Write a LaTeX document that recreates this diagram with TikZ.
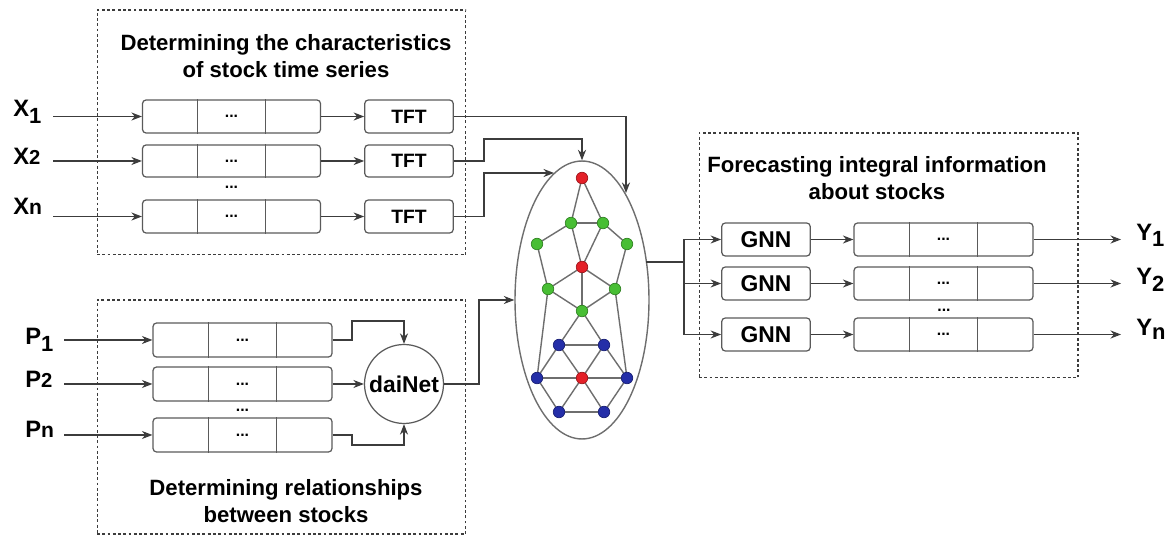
\documentclass[tikz,border=0pt]{standalone}
\usepackage{fontspec}
\setmainfont{Liberation Sans}
\usetikzlibrary{arrows.meta,calc,shapes.geometric,backgrounds}
\definecolor{ln}{RGB}{60,60,60}
\definecolor{bx}{RGB}{90,90,90}
\definecolor{ed}{RGB}{110,110,110}
\definecolor{nred}{RGB}{228,32,40}
\definecolor{ngreen}{RGB}{72,190,52}
\definecolor{nblue}{RGB}{36,46,168}
\tikzset{
  seqbox/.style={draw=bx, rounded corners=2pt, line width=0.7pt, minimum width=3.56cm, minimum height=0.66cm, inner sep=0pt, font=\bfseries\fontsize{9}{9}\selectfont},
  smallbox/.style={draw=bx, rounded corners=2pt, line width=0.7pt, minimum width=1.77cm, minimum height=0.66cm, inner sep=0pt},
  grpbox/.style={draw=ln, dash pattern=on 1.6pt off 1.4pt, line width=0.6pt, inner sep=0pt},
  ttl/.style={font=\bfseries\fontsize{12.6}{15.8}\selectfont, align=center, inner sep=0pt},
  lbl/.style={font=\bfseries\fontsize{13.5}{14}\selectfont, inner sep=0pt, anchor=base west},
  arr/.style={-{Stealth[length=6pt,width=4.6pt]}, draw=ln, line width=0.65pt},
  ln/.style={draw=ln, line width=0.65pt},
  gedge/.style={draw=ed, line width=0.8pt},
  gn/.style={circle, draw=#1!70!black, fill=#1, minimum size=0.23cm, inner sep=0pt, line width=0.4pt},
  dots/.style={font=\bfseries\fontsize{9}{9}\selectfont, inner sep=0pt}
}
\newcommand\seqdiv[1]{%
  \draw[draw=bx, line width=0.7pt] ($(#1.north west)!0.31!(#1.north east)$) -- ($(#1.south west)!0.31!(#1.south east)$);
  \draw[draw=bx, line width=0.7pt] ($(#1.north west)!0.69!(#1.north east)$) -- ($(#1.south west)!0.69!(#1.south east)$);}
\begin{document}
\begin{tikzpicture}[x=0.02cm,y=-0.02cm]
\useasboundingbox (0,0) rectangle (1170,536);
% group boxes
\node[grpbox, minimum width=7.38cm, minimum height=4.9cm] (box1) at (281.5,132.5) {};
\node[grpbox, minimum width=7.38cm, minimum height=4.68cm] (box2) at (281.5,417) {};
\node[grpbox, minimum width=7.58cm, minimum height=4.9cm] (box3) at (888.5,255.5) {};
\node[ttl] (ttl1) at (286,56) {Determining the characteristics\\of stock time series};
\node[ttl] (ttl2) at (286,501) {Determining relationships\\between stocks};
\node[ttl] (ttl3) at (877,178) {Forecasting integral information\\about stocks};

% X rows
\node[seqbox] (r1) at (231.5,116.5) {...};
\node[seqbox, minimum height=0.64cm] (r2) at (231.5,161) {...};
\node[seqbox] (r3) at (231.5,216.5) {...};
\seqdiv{r1}\seqdiv{r2}\seqdiv{r3}
\node[dots] (rd) at (231.5,187) {...};
\node[smallbox, font=\bfseries\fontsize{11}{12}\selectfont] (t1) at (409,116.5) {TFT};
\node[smallbox, font=\bfseries\fontsize{11}{12}\selectfont, minimum height=0.64cm] (t2) at (409,161) {TFT};
\node[smallbox, font=\bfseries\fontsize{11}{12}\selectfont] (t3) at (409,216.5) {TFT};
\node[lbl] (x1) at (13,117) {X\textsubscript{\fontsize{12.5}{12}\selectfont 1}};
\node[lbl] (x2) at (13,164.5) {X{\fontsize{11.5}{12}\selectfont 2}};
\node[lbl] (xn) at (13,215) {X{\fontsize{12}{12}\selectfont n}};
\coordinate (x1s) at (53,116.5);
\coordinate (x2s) at (53,161);
\coordinate (xns) at (53,216.5);
\draw[arr] (x1s) -- (r1.west);
\draw[arr] (x2s) -- (r2.west);
\draw[arr] (xns) -- (r3.west);
\draw[arr] (r1.east) -- (t1.west);
\draw[arr] (r2.east) -- (t2.west);
\draw[arr] (r3.east) -- (t3.west);

% P rows
\node[seqbox, minimum width=3.58cm, minimum height=0.68cm] (q1) at (242.5,340) {...};
\node[seqbox, minimum width=3.58cm, minimum height=0.68cm] (q2) at (242.5,384) {...};
\node[seqbox, minimum width=3.58cm, minimum height=0.68cm] (q3) at (242.5,435) {...};
\seqdiv{q1}\seqdiv{q2}\seqdiv{q3}
\node[dots] (qd) at (242.5,410) {...};
\node[circle, draw=bx, line width=0.7pt, minimum size=1.58cm, inner sep=0pt, font=\bfseries\fontsize{13}{14}\selectfont] (dai) at (404,384) {daiNet};
\node[lbl] (p1) at (25,345) {P\textsubscript{\fontsize{12.5}{12}\selectfont 1}};
\node[lbl] (p2) at (25,387.5) {P{\fontsize{11.5}{12}\selectfont 2}};
\node[lbl] (pn) at (25,438) {P{\fontsize{12}{12}\selectfont n}};
\coordinate (p1s) at (64,340);
\coordinate (p2s) at (64,384);
\coordinate (pns) at (64,435);
\draw[arr] (p1s) -- (q1.west);
\draw[arr] (p2s) -- (q2.west);
\draw[arr] (pns) -- (q3.west);
\draw[arr] (q1.east) -- (352,340) |- (404,321) -- (dai.north);
\draw[arr] (q2.east) -- (dai.west);
\draw[arr] (q3.east) -- (352,435) |- (404,445) -- (dai.south);

% graph ellipse
\node[ellipse, draw=ed, line width=0.8pt, minimum width=2.68cm, minimum height=5.56cm, inner sep=0pt] (ell) at (582,300) {};
\coordinate (e1) at (626,193);
\coordinate (e3) at (554,173);
\coordinate (e4) at (646,262);
\draw[arr] (t1.east) -| (e1);
\draw[arr] (t2.east) -- (484,161) |- (582,139) -- (ell.north);
\draw[arr] (t3.east) -- (484,216.5) |- (e3);
\draw[arr] (dai.east) -- (479,384) |- (ell.west);

% graph nodes
\node[gn=nred] (n1) at (582,178) {};
\node[gn=ngreen] (n2) at (571,223) {};
\node[gn=ngreen] (n3) at (603,223) {};
\node[gn=ngreen] (n4) at (537,244) {};
\node[gn=ngreen] (n5) at (627,244) {};
\node[gn=nred] (n6) at (582,267) {};
\node[gn=ngreen] (n7) at (548,289) {};
\node[gn=ngreen] (n8) at (615,289) {};
\node[gn=ngreen] (n9) at (582,311) {};
\node[gn=nblue] (n10) at (559,345) {};
\node[gn=nblue] (n11) at (604,345) {};
\node[gn=nblue] (n12) at (537,378) {};
\node[gn=nred] (n13) at (582,378) {};
\node[gn=nblue] (n14) at (627,378) {};
\node[gn=nblue] (n15) at (559,412) {};
\node[gn=nblue] (n16) at (604,412) {};
\begin{scope}[on background layer]
\foreach \a/\b in {1/2,1/3,2/3,2/4,3/5,2/6,3/6,6/7,6/8,6/9,4/7,5/8,7/9,8/9,9/10,9/11,7/12,8/14,10/11,10/12,10/13,11/13,11/14,12/13,13/14,12/15,13/15,13/16,14/16,15/16}
  \draw[gedge] (n\a.center) -- (n\b.center);
\end{scope}

% output side
\node[smallbox, font=\bfseries\fontsize{13}{14}\selectfont] (g1) at (766,239.5) {GNN};
\node[smallbox, font=\bfseries\fontsize{13}{14}\selectfont] (g2) at (766,283.5) {GNN};
\node[smallbox, font=\bfseries\fontsize{13}{14}\selectfont] (g3) at (766,334.5) {GNN};
\node[seqbox, minimum width=3.58cm] (o1) at (943.5,239.5) {...};
\node[seqbox, minimum width=3.58cm] (o2) at (943.5,283.5) {...};
\node[seqbox, minimum width=3.58cm] (o3) at (943.5,334.5) {...};
\seqdiv{o1}\seqdiv{o2}\seqdiv{o3}
\node[dots] (od) at (944,310) {...};
\coordinate (br) at (684,262);
\draw[ln] (e4) -- (br);
\draw[arr] (br) |- (g1.west);
\draw[arr] (br) |- (g2.west);
\draw[arr] (br) |- (g3.west);
\draw[arr] (g1.east) -- (o1.west);
\draw[arr] (g2.east) -- (o2.west);
\draw[arr] (g3.east) -- (o3.west);
\coordinate (y1e) at (1121,239.5);
\coordinate (y2e) at (1121,283.5);
\coordinate (yne) at (1121,334.5);
\draw[arr] (o1.east) -- (y1e);
\draw[arr] (o2.east) -- (y2e);
\draw[arr] (o3.east) -- (yne);
\node[lbl] (y1) at (1136,240.5) {Y\textsubscript{\fontsize{12.5}{12}\selectfont 1}};
\node[lbl] (y2) at (1136,284.5) {Y\textsubscript{\fontsize{12.5}{12}\selectfont 2}};
\node[lbl] (yn) at (1136,335.5) {Y\textsubscript{\fontsize{12.5}{12}\selectfont n}};
\end{tikzpicture}
\end{document}
